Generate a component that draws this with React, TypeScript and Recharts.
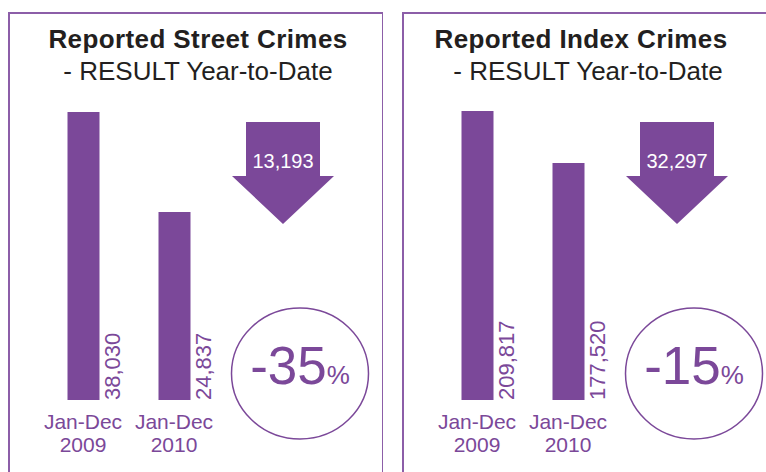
import React from 'react'
import { BarChart, Bar, XAxis, YAxis, LabelList } from 'recharts'

const categories = ['Jan-Dec 2009', 'Jan-Dec 2010']
const streetCrimes = [38030, 24837]
const indexCrimes = [209817, 177520]
const titles = ['Reported Street Crimes', 'Reported Index Crimes']
const subtitle = '- RESULT Year-to-Date'

const PURPLE = '#7b4899'
const FRAME = '#8c5ea8'
const FONT = '"Liberation Sans", Arial, Helvetica, sans-serif'

const fmt = (v: number) => v.toLocaleString('en-US')

function PeriodTick({ x, y, payload }: any) {
  const [top, bottom] = String(payload.value).split(' ')
  return (
    <text x={x} y={y} textAnchor="middle" fill={PURPLE} fontSize={21} fontFamily={FONT}>
      <tspan x={x} dy={29}>{top}</tspan>
      <tspan x={x} dy={23}>{bottom}</tspan>
    </text>
  )
}

function SideLabel({ x, y, width, height, value }: any) {
  const lx = x + width + 20
  const ly = y + height
  return (
    <text
      x={lx}
      y={ly}
      transform={`rotate(-90, ${lx}, ${ly})`}
      fill={PURPLE}
      fontSize={22}
      fontFamily={FONT}
      textAnchor="start"
    >
      {fmt(value)}
    </text>
  )
}

interface PanelProps {
  origin: number
  title: string
  titleX: number
  subX: number
  values: number[]
  domainMin: number
  plotTop: number
}

function Panel({ origin, title, titleX, subX, values, domainMin, plotTop }: PanelProps) {
  const data = categories.map((c, i) => ({ period: c, value: values[i] }))
  const diff = values[0] - values[1]
  const pct = Math.round((diff / values[0]) * 100)

  return (
    <div style={{ position: 'absolute', left: origin, top: 0, width: 383, height: 472 }}>
      <svg width={383} height={472} style={{ position: 'absolute', left: 0, top: 0 }}>
        <rect x={9} y={13} width={374} height={520} fill="none" stroke={FRAME} strokeWidth={2} />
        <text
          x={titleX}
          y={48}
          textAnchor="middle"
          fontSize={26}
          fontWeight="bold"
          letterSpacing={0.4}
          fill="#231f20"
          fontFamily={FONT}
        >
          {title}
        </text>
        <text x={subX} y={80} textAnchor="middle" fontSize={26} fill="#231f20" fontFamily={FONT}>
          {subtitle}
        </text>
        <polygon
          points="246,122 320,122 320,176 334,176 283,224 232,176 246,176"
          fill={PURPLE}
        />
        <text x={283} y={168} textAnchor="middle" fontSize={20} fill="#ffffff" fontFamily={FONT}>
          {fmt(diff)}
        </text>
        <ellipse cx={300} cy={373.5} rx={68.5} ry={65.5} fill="none" stroke={PURPLE} strokeWidth={1.5} />
        <text x={300} y={384} textAnchor="middle" fill={PURPLE} fontFamily={FONT}>
          <tspan fontSize={53}>{`-${pct}`}</tspan>
          <tspan fontSize={26}>%</tspan>
        </text>
      </svg>
      <div style={{ position: 'absolute', left: 0, top: 0 }}>
        <BarChart
          width={383}
          height={472}
          data={data}
          margin={{ top: plotTop, right: 163.5, bottom: 0, left: 37.5 }}
          barCategoryGap={0}
        >
          <XAxis
            dataKey="period"
            height={472 - 400}
            axisLine={false}
            tickLine={false}
            tickSize={0}
            tickMargin={0}
            interval={0}
            tick={<PeriodTick />}
          />
          <YAxis hide domain={[domainMin, 'dataMax']} allowDataOverflow />
          <Bar dataKey="value" fill={PURPLE} barSize={32} isAnimationActive={false}>
            <LabelList dataKey="value" content={<SideLabel />} />
          </Bar>
        </BarChart>
      </div>
    </div>
  )
}

export default function App() {
  return (
    <div
      style={{
        position: 'absolute',
        left: 0,
        top: 0,
        width: 766,
        height: 472,
        background: '#ffffff',
        overflow: 'hidden',
      }}
    >
      <Panel origin={0} title={titles[0]} titleX={198} subX={198} values={streetCrimes} domainMin={0} plotTop={112} />
      <Panel origin={394} title={titles[1]} titleX={187} subX={194} values={indexCrimes} domainMin={30000} plotTop={111} />
    </div>
  )
}
